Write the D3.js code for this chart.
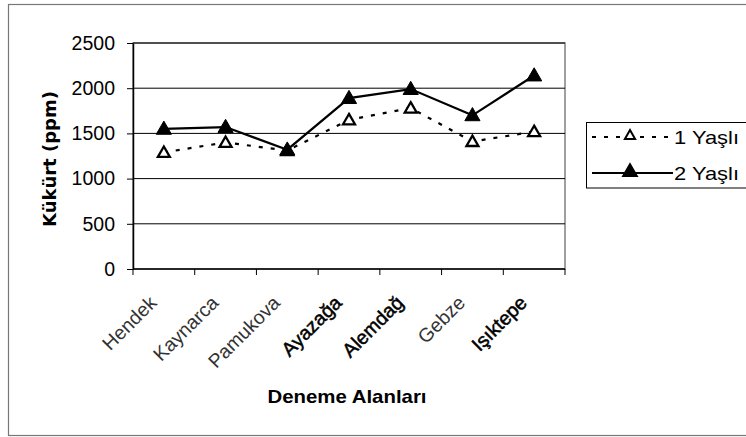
<!DOCTYPE html>
<html>
<head>
<meta charset="utf-8">
<script src="https://cdn.jsdelivr.net/npm/d3@7"></script>
<style>
  html, body { margin: 0; padding: 0; background: #fff; }
  svg { display: block; }
</style>
</head>
<body>
<svg id="chart" width="746" height="437"></svg>
<script>
// Sulphur content by trial site, for two needle ages
const categories = ["Hendek", "Kaynarca", "Pamukova", "Ayazağa", "Alemdağ", "Gebze", "Işıktepe"];
const boldSites = ["Ayazağa", "Alemdağ", "Işıktepe"];
const yasli1 = [1290, 1400, 1310, 1650, 1780, 1410, 1520];
const yasli2 = [1550, 1570, 1320, 1890, 1990, 1700, 2140];
const seriesNames = ["1 Yaşlı", "2 Yaşlı"];
const yTicks = [0, 500, 1000, 1500, 2000, 2500];
const yTitle = "Kükürt (ppm)";
const xTitle = "Deneme Alanları";

const svg = d3.select("#chart");
const plot = { left: 133, right: 565, top: 43, bottom: 269 };
const sans = "'Liberation Sans', Arial, sans-serif";

// outer chart frame
svg.append("rect")
  .attr("x", 8.5).attr("y", 4.5).attr("width", 800).attr("height", 431)
  .attr("fill", "#fff").attr("stroke", "#777").attr("stroke-width", 1.2);

const x = d3.scaleBand().domain(categories).range([plot.left, plot.right]).padding(0);
const y = d3.scaleLinear().domain([0, 2500]).range([plot.bottom, plot.top]);
const cx = d => x(d) + x.bandwidth() / 2;

// plot area border
svg.append("rect")
  .attr("x", plot.left).attr("y", plot.top)
  .attr("width", plot.right - plot.left).attr("height", plot.bottom - plot.top)
  .attr("fill", "none").attr("stroke", "#808080").attr("stroke-width", 1.5);

// horizontal gridlines
svg.append("g").selectAll("line")
  .data(yTicks.filter(t => t > 0))
  .join("line")
  .attr("x1", plot.left).attr("x2", plot.right)
  .attr("y1", d => y(d)).attr("y2", d => y(d))
  .attr("stroke", "#000").attr("stroke-width", 1);

// y axis
const yAxis = svg.append("g")
  .attr("transform", `translate(${plot.left},0)`)
  .call(d3.axisLeft(y).tickValues(yTicks).tickFormat(d3.format("d"))
    .tickSize(6).tickPadding(12).tickSizeOuter(0));
yAxis.select(".domain").attr("stroke", "#000").attr("stroke-width", 1.5);
yAxis.selectAll(".tick line").attr("stroke", "#000");
yAxis.selectAll(".tick text")
  .attr("font-family", sans).attr("font-size", 19.5).attr("fill", "#000");

// x axis: ticks on category boundaries
const boundaries = categories.map(c => x(c)).concat([plot.right]);
const xAxis = svg.append("g").attr("transform", `translate(0,${plot.bottom})`);
xAxis.append("line")
  .attr("x1", plot.left).attr("x2", plot.right)
  .attr("stroke", "#000").attr("stroke-width", 1.5);
xAxis.selectAll("line.tk").data(boundaries).join("line")
  .attr("class", "tk")
  .attr("x1", d => d).attr("x2", d => d).attr("y1", 0).attr("y2", 6)
  .attr("stroke", "#000");

// slanted category labels (45 degrees, anchored at their end)
const c45 = Math.SQRT1_2;
xAxis.selectAll("text.lbl").data(categories).join("text")
  .attr("class", "lbl")
  .attr("transform", d => `matrix(${c45},${-c45},${c45},${c45},${cx(d) - 6},35)`)
  .attr("text-anchor", "end")
  .attr("font-family", sans).attr("font-size", 19.5)
  .attr("fill", d => boldSites.includes(d) ? "#000" : "#333")
  .attr("stroke", d => boldSites.includes(d) ? "#000" : "none")
  .attr("stroke-width", 0.5)
  .text(d => d);

// axis titles
svg.append("text")
  .attr("transform", "matrix(0,-1,1,0,56,159)")
  .attr("text-anchor", "middle")
  .attr("font-family", "'DejaVu Sans', Verdana, sans-serif")
  .attr("font-weight", "bold").attr("font-size", 18)
  .text(yTitle);
svg.append("text")
  .attr("x", 347).attr("y", 403)
  .attr("text-anchor", "middle")
  .attr("font-family", sans).attr("font-weight", "bold").attr("font-size", 19)
  .attr("textLength", 159).attr("lengthAdjust", "spacingAndGlyphs")
  .text(xTitle);

// series lines and markers
const tri = d3.symbol().type(d3.symbolTriangle);
const line = d3.line().x((d, i) => cx(categories[i])).y(d => y(d));

svg.append("path").datum(yasli1)
  .attr("d", line).attr("fill", "none")
  .attr("stroke", "#000").attr("stroke-width", 2.2).attr("stroke-dasharray", "4,8");
svg.append("path").datum(yasli2)
  .attr("d", line).attr("fill", "none")
  .attr("stroke", "#000").attr("stroke-width", 2.2);

svg.append("g").selectAll("path").data(yasli1).join("path")
  .attr("transform", (d, i) => `translate(${cx(categories[i])},${y(d) + 1})`)
  .attr("d", tri.size(62)())
  .attr("fill", "#fff").attr("stroke", "#000").attr("stroke-width", 2.3);
svg.append("g").selectAll("path").data(yasli2).join("path")
  .attr("transform", (d, i) => `translate(${cx(categories[i])},${y(d) + 1})`)
  .attr("d", tri.size(100)())
  .attr("fill", "#000").attr("stroke", "#000").attr("stroke-width", 1);

// legend
const lg = svg.append("g");
lg.append("rect")
  .attr("x", 586.5).attr("y", 122.5).attr("width", 200).attr("height", 65.5)
  .attr("fill", "#fff").attr("stroke", "#000").attr("stroke-width", 1);
const rows = [
  { name: seriesNames[0], dash: "4,8", fill: "#fff", size: 45, yy: 137 },
  { name: seriesNames[1], dash: null, fill: "#000", size: 80, yy: 173 }
];
rows.forEach(r => {
  lg.append("line")
    .attr("x1", 592).attr("x2", 673).attr("y1", r.yy).attr("y2", r.yy)
    .attr("stroke", "#000").attr("stroke-width", 2.2)
    .attr("stroke-dasharray", r.dash);
  lg.append("path")
    .attr("transform", `translate(630,${r.yy - 1})`)
    .attr("d", tri.size(r.size)())
    .attr("fill", r.fill).attr("stroke", "#000").attr("stroke-width", 2);
  lg.append("text")
    .attr("x", 674).attr("y", r.yy).attr("dy", "0.36em")
    .attr("font-family", sans).attr("font-size", 19)
    .attr("textLength", 65).attr("lengthAdjust", "spacingAndGlyphs")
    .text(r.name);
});
</script>
</body>
</html>
